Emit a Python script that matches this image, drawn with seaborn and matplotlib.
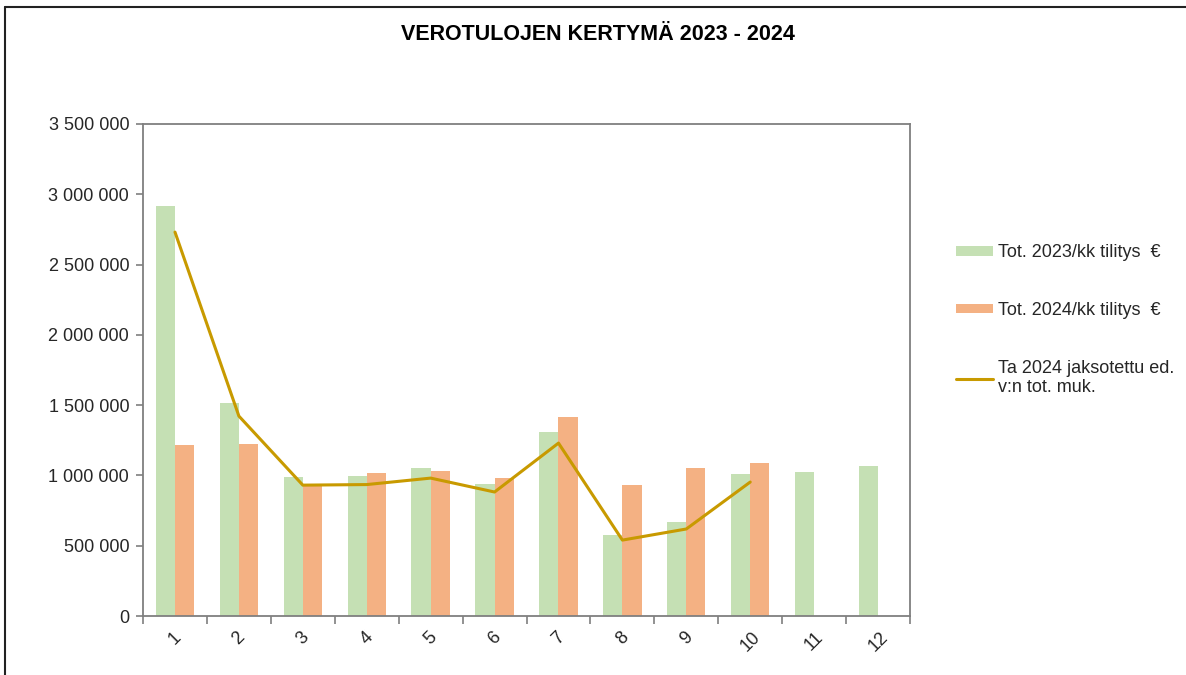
"""Verotulojen kertymä 2023 - 2024, kuukausittain"""
import matplotlib
matplotlib.use('Agg')
import numpy as np
import pandas as pd
import seaborn as sns
import matplotlib.pyplot as plt
from matplotlib.lines import Line2D
from matplotlib.patches import Patch
from matplotlib.ticker import FuncFormatter, MultipleLocator

months = ['1', '2', '3', '4', '5', '6', '7', '8', '9', '10', '11', '12']
tot_2023 = [2915000, 1515000, 988000, 995000, 1052000, 939000,
            1309000, 578000, 669000, 1010000, 1024000, 1067000]
tot_2024 = [1216000, 1223000, 939000, 1017000, 1031000, 981000,
            1415000, 932000, 1052000, 1088000, np.nan, np.nan]
ta_2024 = [2731000, 1422000, 931000, 935000, 981000, 882000,
           1230000, 540000, 619000, 953000]

lbl_2023 = 'Tot. 2023/kk tilitys  €'
lbl_2024 = 'Tot. 2024/kk tilitys  €'
lbl_ta = 'Ta 2024 jaksotettu ed.\nv:n tot. muk.'

c_2023 = '#c5e0b4'
c_2024 = '#f4b183'
c_ta = '#c89a00'

df = pd.DataFrame({
    'kk': months * 2,
    'sarja': [lbl_2023] * 12 + [lbl_2024] * 12,
    'euroa': tot_2023 + tot_2024,
})

sns.set_theme(style='white')
plt.rcParams['font.family'] = ['Liberation Sans', 'DejaVu Sans']

fig = plt.figure(figsize=(11.86, 6.75), dpi=100)
ax = fig.add_axes([0.1206, 0.0874, 0.6467, 0.7289])

sns.barplot(data=df, x='kk', y='euroa', hue='sarja', order=months,
            palette=[c_2023, c_2024], width=0.6, saturation=1,
            linewidth=0, ax=ax, legend=False)
sns.lineplot(x=np.arange(len(ta_2024)), y=ta_2024, color=c_ta,
             linewidth=2.2, ax=ax)

ax.set_xlim(-0.5, 11.5)
ax.set_ylim(0, 3500000)
ax.yaxis.set_major_locator(MultipleLocator(500000))
ax.yaxis.set_major_formatter(
    FuncFormatter(lambda v, p: '{:,.0f}'.format(v).replace(',', ' ')))
ax.set_xlabel('')
ax.set_ylabel('')

ax.set_xticks(np.arange(-0.5, 12, 1), minor=True)
ax.tick_params(axis='x', which='major', length=0, pad=9, labelsize=13,
               labelrotation=45)
ax.tick_params(axis='x', which='minor', length=6, width=1.2,
               color='#7f7f7f', direction='out', bottom=True)
ax.tick_params(axis='y', length=5, width=1.2, color='#7f7f7f',
               direction='out', left=True, labelsize=13, pad=5)
for lab in ax.get_xticklabels():
    lab.set_ha('center')

for sp in ax.spines.values():
    sp.set_color('#7f7f7f')
    sp.set_linewidth(1.3)

fig.text(0.504, 0.949, 'VEROTULOJEN KERTYMÄ 2023 - 2024', ha='center',
         va='center', fontsize=15.5, fontweight='bold', color='black')

handles = [Patch(facecolor=c_2023, edgecolor='none'),
           Patch(facecolor=c_2024, edgecolor='none'),
           Line2D([0], [0], color=c_ta, lw=2.2)]
fig.legend(handles, [lbl_2023, lbl_2024, lbl_ta], loc='upper left',
           bbox_to_anchor=(0.792, 0.662), frameon=False, fontsize=13,
           handlelength=2.1, handleheight=0.42, handletextpad=0.25,
           labelspacing=2.25)

# frame round the whole chart
fig.add_artist(Line2D([0.004, 1.0], [0.989, 0.989], color='#222222',
                      lw=1.5, transform=fig.transFigure))
fig.add_artist(Line2D([0.004, 0.004], [0.0, 0.989], color='#222222',
                      lw=1.5, transform=fig.transFigure))

fig.savefig('out.png', dpi=100)
plt.close(fig)
